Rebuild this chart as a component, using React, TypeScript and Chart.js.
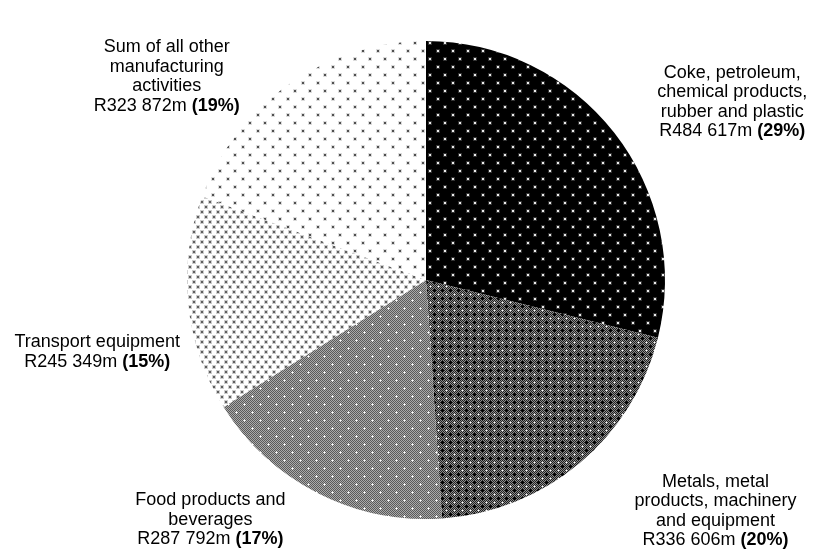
import React, { useEffect, useRef } from "react";
import { Chart, registerables } from "chart.js";

Chart.register(...registerables);

const categories = [
  "Coke, petroleum, chemical products, rubber and plastic",
  "Metals, metal products, machinery and equipment",
  "Food products and beverages",
  "Transport equipment",
  "Sum of all other manufacturing activities",
];
const labelLines = [
  ["Coke, petroleum,", "chemical products,", "rubber and plastic"],
  ["Metals, metal", "products, machinery", "and equipment"],
  ["Food products and", "beverages"],
  ["Transport equipment"],
  ["Sum of all other", "manufacturing", "activities"],
];
const valuesRm = [484617, 336606, 287792, 245349, 323872];

function pixelPattern(w: number, h: number, fn: (x: number, y: number) => number): CanvasPattern {
  const c = document.createElement("canvas");
  c.width = w;
  c.height = h;
  const ctx = c.getContext("2d")!;
  const img = ctx.createImageData(w, h);
  for (let y = 0; y < h; y++) {
    for (let x = 0; x < w; x++) {
      const v = fn(x, y);
      const i = (y * w + x) * 4;
      img.data[i] = v;
      img.data[i + 1] = v;
      img.data[i + 2] = v;
      img.data[i + 3] = 255;
    }
  }
  ctx.putImageData(img, 0, 0);
  return ctx.createPattern(c, "repeat")!;
}

function dotVal(x: number, y: number, dots: number[][], bg: number, halo: number, core: number): number {
  for (const [dx, dy] of dots) {
    if (x >= dx && x <= dx + 1 && y >= dy && y <= dy + 1) return core;
  }
  for (const [dx, dy] of dots) {
    if (x >= dx - 1 && x <= dx + 2 && y >= dy - 1 && y <= dy + 2) return halo;
  }
  return bg;
}

function makePatterns(): CanvasPattern[] {
  const coke = pixelPattern(15, 16, (x, y) => dotVal(x, y, [[2, 2], [9, 10]], 0, 50, 235));
  const metals = pixelPattern(8, 8, (x, y) => {
    if ((x === 2 && y >= 1 && y <= 3) || (y === 2 && x >= 1 && x <= 3)) return 0;
    if (x === 6 && y === 6) return 255;
    if ((x === 6 && (y === 5 || y === 7)) || (y === 6 && (x === 5 || x === 7))) return 180;
    return (x + y) % 2 === 0 ? 30 : 140;
  });
  const food = pixelPattern(16, 16, (x, y) => {
    const plus = (cx: number, cy: number) => (x === cx && Math.abs(y - cy) <= 1) || (y === cy && Math.abs(x - cx) <= 1);
    if ((x === 4 && y === 4) || (x === 12 && y === 12)) return 255;
    if (plus(4, 4) || plus(12, 12)) return 225;
    return (x + y) % 2 === 0 ? 90 : 170;
  });
  const transport = pixelPattern(8, 10, (x, y) => dotVal(x, y, [[1, 1], [5, 6]], 255, 205, 95));
  const other = pixelPattern(15, 16, (x, y) => dotVal(x, y, [[2, 2], [9, 10]], 255, 220, 80));
  return [coke, metals, food, transport, other];
}

function fmtRand(v: number): string {
  const s = String(Math.round(v));
  return "R" + s.replace(/\B(?=(\d{3})+(?!\d))/g, " ") + "m";
}

const labelPlugin = {
  id: "sliceLabels",
  afterDraw(chart: any, _args: any, opts: any) {
    const ctx: CanvasRenderingContext2D = chart.ctx;
    const meta = chart.getDatasetMeta(0);
    const data: number[] = chart.data.datasets[0].data;
    const total = data.reduce((a, b) => a + b, 0);
    const lh: number = opts.lineHeight;
    const family: string = opts.family;
    const size: number = opts.size;
    const sy: number = opts.scaleY;
    meta.data.forEach((arc: any, i: number) => {
      const p = arc.getProps(["x", "y", "startAngle", "endAngle", "outerRadius"], true);
      const mid = (p.startAngle + p.endAngle) / 2;
      const ex = p.x + Math.cos(mid) * p.outerRadius;
      const ey = p.y + Math.sin(mid) * p.outerRadius;
      const [ox, oy] = opts.offsets[i];
      const cx = ex + ox;
      const cy = ey + oy;
      const lines = labelLines[i];
      const n = lines.length + 1;
      ctx.save();
      ctx.fillStyle = opts.color;
      ctx.textBaseline = "alphabetic";
      const drawLine = (k: number, parts: { t: string; bold: boolean }[]) => {
        const lineY = cy + (k - (n - 1) / 2) * lh + opts.baselineShift;
        let w = 0;
        for (const part of parts) {
          ctx.font = `${part.bold ? "bold " : ""}${size}px ${family}`;
          w += ctx.measureText(part.t).width;
        }
        let x = cx - w / 2;
        for (const part of parts) {
          ctx.font = `${part.bold ? "bold " : ""}${size}px ${family}`;
          ctx.save();
          ctx.translate(x, lineY);
          ctx.scale(1, sy);
          ctx.textAlign = "left";
          ctx.fillText(part.t, 0, 0);
          ctx.restore();
          x += ctx.measureText(part.t).width;
        }
      };
      lines.forEach((t, k) => drawLine(k, [{ t, bold: false }]));
      const pct = Math.round((data[i] / total) * 100);
      drawLine(lines.length, [
        { t: fmtRand(data[i]) + " ", bold: false },
        { t: `(${pct}%)`, bold: true },
      ]);
      ctx.restore();
    });
  },
};

export default function App() {
  const ref = useRef<HTMLCanvasElement | null>(null);
  useEffect(() => {
    if (!ref.current) return;
    const patterns = makePatterns();
    const chart = new Chart(ref.current, {
      type: "pie",
      data: {
        labels: categories,
        datasets: [
          {
            data: valuesRm,
            backgroundColor: patterns as any,
            borderWidth: 0,
          },
        ],
      },
      options: {
        animation: false,
        responsive: false,
        devicePixelRatio: 1,
        layout: { padding: { top: 41, bottom: 33, left: 39, right: 0 } },
        plugins: {
          legend: { display: false },
          tooltip: { enabled: false },
          sliceLabels: {
            offsets: [
              [118, -33],
              [136, 46],
              [-107, 25],
              [-91, 46],
              [-123, -9],
            ],
            lineHeight: 19.5,
            size: 18,
            scaleY: 1.05,
            baselineShift: 7,
            family: "'Liberation Sans', Arial, sans-serif",
            color: "#000",
          },
        } as any,
      },
      plugins: [labelPlugin as any],
    });
    return () => chart.destroy();
  }, []);
  return (
    <div style={{ position: "fixed", left: 0, top: 0, width: 813, height: 552, background: "#fff" }}>
      <canvas ref={ref} width={813} height={552} style={{ display: "block", width: 813, height: 552 }} />
    </div>
  );
}
